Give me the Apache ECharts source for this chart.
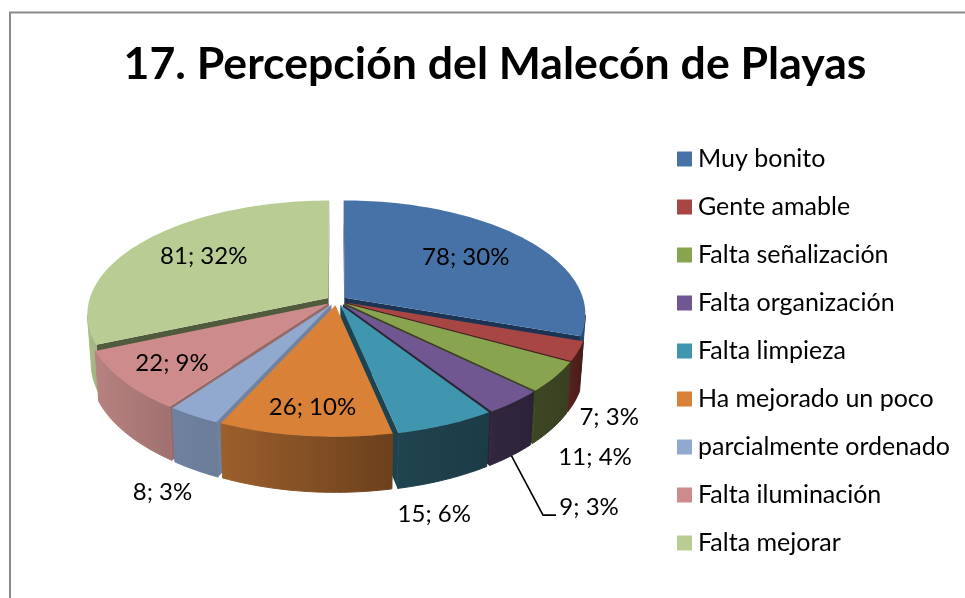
<!DOCTYPE html>
<html><head><meta charset="utf-8">
<style>html,body{margin:0;padding:0;background:#fff}#c{width:965px;height:598px}</style>
<script src="https://cdn.jsdelivr.net/npm/echarts@6/dist/echarts.min.js"></script>
</head><body><div id="c"></div>
<script>
const titleText = '17. Percepción del Malecón de Playas';
const categories = ['Muy bonito','Gente amable','Falta señalización','Falta organización','Falta limpieza','Ha mejorado un poco','parcialmente ordenado','Falta iluminación','Falta mejorar'];
const values = [78,7,11,9,15,26,8,22,81];
const percents = [30,3,4,3,6,10,3,9,32];

const topColors = ['#4672A8','#A74643','#88A44F','#715792','#3F96AE','#D98136','#91A8CF','#CD8C8B','#B8CC93'];
const wallLeft  = ['#2A4568','#5A2320','#3E4723','#30263E','#20444F','#9C5F2D','#6E819E','#B78280','#A9BC88'];
const wallRight = ['#2A4568','#451B18','#384020','#2C2238','#1B3B47','#6B401C','#6A7C98','#A07070','#A0B27E'];
const edgeColors = ['#1C3453','#4B1D1A','#3A4220','#2D2339','#1D4350','#7A4A22','#6F83A1','#956968','#505A3C'];
const labelOffsets = [[-58,19],[31,66],[40,80],[75,105],[-12,89],[8,-29],[-31,77],[49,-18],[60,15]];
const leaderSlices = [3];

const CX=336.5, CY=300.5, RX=239, RY=111.7, K=0.14, EXPLODE=0.042, DEPTH=47.5, SHRINK=0.985;
const FONT='Lato';

const total = values.reduce((a,b)=>a+b,0);
let run = 0;
const spans = values.map(v=>{const a=run/total*2*Math.PI; run+=v; return [a,run/total*2*Math.PI];});

function project(u,v){
  const w=1/(1-K*v);
  return {x:CX+RX*u*w, y:CY+RY*v*w, w};
}
function sliceGeom(i){
  const [a,b]=spans[i], m=(a+b)/2;
  const ou=EXPLODE*Math.sin(m), ov=-EXPLODE*Math.cos(m);
  const pt=(ang,f)=>project(f*Math.sin(ang)+ou,-f*Math.cos(ang)+ov);
  const n=Math.max(2,Math.ceil((b-a)/(Math.PI/120)));
  const arc=[];
  for(let j=0;j<=n;j++) arc.push(pt(a+(b-a)*j/n,1));
  return {m,tip:pt(m,0),arc,mid:pt(m,1),midV:-Math.cos(m)};
}
function lower(p){return [CX+(p.x-CX)*SHRINK, p.y+DEPTH*p.w];}
function up(p){return [p.x,p.y];}
function poly(points,fill,z2,seam){return {type:'polygon',z2,silent:true,shape:{points},style:{fill,stroke:seam?fill:null,lineWidth:seam?1:0}};}
function line(points){return {type:'polyline',z2:50,silent:true,shape:{points},style:{fill:null,stroke:'#000',lineWidth:1.6}};}
// Only the part of the rim that runs right-to-left on screen faces the viewer.
function frontArc(arc){
  return arc.filter((p,j)=>(j<arc.length-1&&arc[j+1].x<p.x)||(j>0&&arc[j-1].x>p.x));
}

function makeRender(i){
  return function(){
    const g=sliceGeom(i), kids=[], t=g.arc[0], e=g.arc[g.arc.length-1];
    if(t.x<g.tip.x) kids.push(poly([up(g.tip),up(t),lower(t),lower(g.tip)],edgeColors[i],1));
    if(e.x>g.tip.x) kids.push(poly([up(g.tip),up(e),lower(e),lower(g.tip)],edgeColors[i],1));
    const front=frontArc(g.arc);
    if(front.length>1){
      const rimPts=front.map(up).concat(front.slice().reverse().map(lower));
      kids.push(poly(rimPts,new echarts.graphic.LinearGradient(0,0,1,0,[{offset:0,color:wallLeft[i]},{offset:1,color:wallRight[i]}]),2,true));
    }
    kids.push(poly([up(g.tip)].concat(g.arc.map(up)),topColors[i],3));
    const lx=g.mid.x+labelOffsets[i][0], ly=g.mid.y+labelOffsets[i][1];
    kids.push({type:'text',z2:60,silent:true,style:{x:lx,y:ly,text:values[i]+'; '+percents[i]+'%',fill:'#000',font:'24px '+FONT,align:'center',verticalAlign:'middle'}});
    if(leaderSlices.includes(i)){
      const s=lower(g.mid);
      kids.push(line([s,[lx-46,ly+8],[lx-33,ly+8]]));
    }
    return {type:'group',children:kids};
  };
}
const order=values.map((_,i)=>i).sort((a,b)=>sliceGeom(a).midV-sliceGeom(b).midV);
const series=categories.map((name,i)=>({
  type:'custom',name,coordinateSystem:'none',silent:true,animation:false,
  z:10+order.indexOf(i),
  itemStyle:{color:topColors[i]},
  data:[[values[i]]],
  renderItem:makeRender(i)
}));

const chart=echarts.init(document.getElementById('c'),null,{renderer:'canvas'});
chart.setOption({
  animation:false,
  backgroundColor:'#fff',
  title:{text:titleText,left:490,top:37,textAlign:'center',textStyle:{fontFamily:FONT,fontWeight:'bold',fontSize:44.6,color:'#000'}},
  legend:{orient:'vertical',left:672,top:140,itemWidth:15,itemHeight:15,itemGap:20,icon:'rect',selectedMode:false,
    textStyle:{fontFamily:FONT,fontSize:25,color:'#000',padding:[0,0,0,1],lineHeight:28},
    data:categories},
  graphic:[{type:'rect',z:0,silent:true,shape:{x:10,y:12.5,width:1100,height:1100},style:{fill:null,stroke:'#8A8A8A',lineWidth:2}}],
  series
});
</script></body></html>
